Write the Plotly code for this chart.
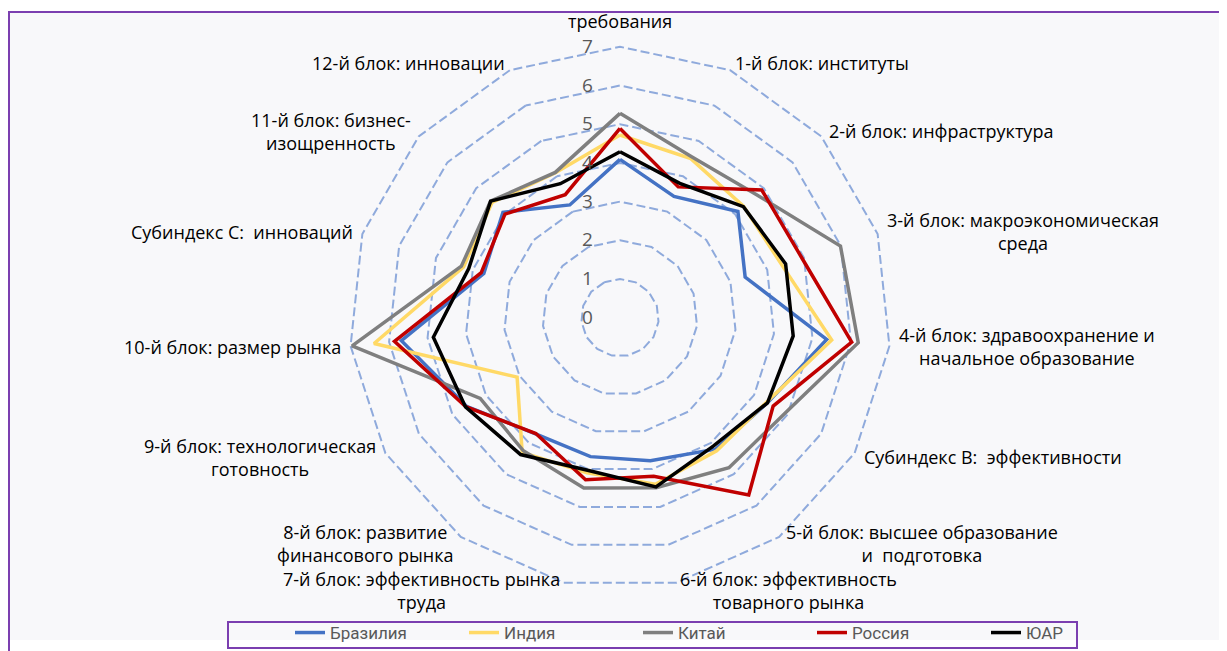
import math
import plotly.graph_objects as go

# ---------------- data ----------------
categories = [
    "Субиндекс А: базовые требования",
    "1-й блок: институты",
    "2-й блок: инфраструктура",
    "3-й блок: макроэкономическая среда",
    "4-й блок: здравоохранение и начальное образование",
    "Субиндекс В:  эффективности",
    "5-й блок: высшее образование и подготовка",
    "6-й блок: эффективность товарного рынка",
    "7-й блок: эффективность рынка труда",
    "8-й блок: развитие финансового рынка",
    "9-й блок: технологическая готовность",
    "10-й блок: размер рынка",
    "Субиндекс С:  инноваций",
    "11-й блок: бизнес-изощренность",
    "12-й блок: инновации",
]
# visible label text (the top label is cropped in the reference: only its last line shows)
category_labels = [
    "требования",
    "1-й блок: институты",
    "2-й блок: инфраструктура",
    "3-й блок: макроэкономическая<br>среда",
    "4-й блок: здравоохранение и<br>начальное образование",
    "Субиндекс В:  эффективности",
    "5-й блок: высшее образование<br>и  подготовка",
    "6-й блок: эффективность<br>товарного рынка",
    "7-й блок: эффективность рынка<br>труда",
    "8-й блок: развитие<br>финансового рынка",
    "9-й блок: технологическая<br>готовность",
    "10-й блок: размер рынка",
    "Субиндекс С:  инноваций",
    "11-й блок: бизнес-<br>изощренность",
    "12-й блок: инновации",
]

brazil = [4.09, 3.43, 4.10, 3.40, 5.37, 4.40, 4.20, 3.78, 3.67, 3.71, 4.58, 5.68, 3.70, 4.07, 3.19]
india  = [4.72, 4.50, 4.30, 4.40, 5.50, 4.37, 4.25, 4.40, 4.10, 4.30, 3.07, 6.39, 4.25, 4.45, 4.10]
china  = [5.28, 4.55, 4.75, 5.99, 6.19, 4.93, 4.79, 4.49, 4.50, 4.25, 4.17, 6.96, 4.31, 4.50, 4.11]
russia = [4.89, 3.70, 4.93, 4.95, 6.02, 4.57, 5.66, 4.19, 4.28, 3.70, 4.60, 5.86, 3.77, 4.00, 3.48]
rsa    = [4.29, 3.80, 4.29, 4.50, 4.50, 4.40, 4.10, 4.47, 4.03, 4.37, 4.61, 4.85, 4.11, 4.50, 3.79]

series_names = ["Бразилия", "Индия", "Китай", "Россия", "ЮАР"]
series_values = [brazil, india, china, russia, rsa]
series_colors = ["#4472C4", "#FFD966", "#7F7F7F", "#C00000", "#000000"]

radial_ticks = [0, 1, 2, 3, 4, 5, 6, 7]
radial_max = 7.05   # a little headroom so the ring at 7 is drawn

# ---------------- layout geometry (page pixels; the page body has an 8px margin) ----------------
OFF = 8
W, H = 1227 - OFF, 651 - OFF
CX, CY = 620, 317.7
UNIT = 38.7                 # px per scale unit
R7 = UNIT * 7               # outer ring radius
RD = UNIT * radial_max      # polar domain radius
FONT = "Open Sans, Noto Sans, DejaVu Sans, sans-serif"
PURPLE = "#7B3FB0"


def px(x):
    return (x - OFF) / W


def py(y):
    return 1 - (y - OFF) / H


fig = go.Figure()
for name, vals, col in zip(series_names, series_values, series_colors):
    fig.add_trace(go.Scatterpolar(
        r=list(vals) + [vals[0]],
        theta=categories + [categories[0]],
        mode="lines",
        name=name,
        line=dict(color=col, width=3.5),
    ))

# category labels placed around the outer ring
annotations = []
n = len(categories)
for i, lab in enumerate(category_labels):
    ang = math.radians(90 - 360.0 * i / n)
    c, s = math.cos(ang), math.sin(ang)
    ax = CX + (R7 + 8) * c
    ay = CY - (R7 + 8) * s
    if c > 0.15:
        xa = "left"
    elif c < -0.15:
        xa = "right"
    else:
        xa = "center"
    ya = "middle"
    if i == 0:
        ya = "bottom"
        ay = CY - R7 - 12
    annotations.append(dict(
        x=px(ax), y=py(ay), xref="paper", yref="paper",
        text=lab, showarrow=False, xanchor=xa, yanchor=ya, align="center",
        font=dict(family=FONT, size=18, color="#000000"),
    ))

shapes = [
    dict(type="rect", xref="paper", yref="paper", x0=0, x1=1, y0=py(640), y1=py(12),
         fillcolor="#F8F8FA", line=dict(width=0), layer="below"),
    dict(type="line", xref="paper", yref="paper", x0=px(8), x1=1, y0=py(12), y1=py(12),
         line=dict(color=PURPLE, width=2), layer="above"),
    dict(type="line", xref="paper", yref="paper", x0=px(9), x1=px(9), y0=0, y1=py(12),
         line=dict(color=PURPLE, width=2), layer="above"),
    # legend frame
    dict(type="rect", xref="paper", yref="paper", x0=px(228), x1=px(1077), y0=py(648), y1=py(622),
         line=dict(color=PURPLE, width=2), fillcolor="rgba(0,0,0,0)", layer="above"),
]

fig.update_layout(
    width=W, height=H,
    margin=dict(l=0, r=0, t=0, b=0),
    paper_bgcolor="white",
    plot_bgcolor="rgba(0,0,0,0)",
    font=dict(family=FONT),
    polar=dict(
        domain=dict(x=[px(CX - RD), px(CX + RD)], y=[py(CY + RD), py(CY - RD)]),
        bgcolor="rgba(0,0,0,0)",
        gridshape="linear",
        angularaxis=dict(
            direction="clockwise", rotation=90,
            showgrid=False, showline=False, showticklabels=False, ticks="",
        ),
        radialaxis=dict(
            range=[0, radial_max], tickvals=radial_ticks, angle=90, tickangle=90,
            showline=False, ticks="outside", ticklen=20, tickcolor="rgba(0,0,0,0)",
            tickfont=dict(family=FONT, size=19, color="#595959"),
            gridcolor="#8FAADC", griddash="9px,4px", gridwidth=2.3,
            side="counterclockwise",
        ),
    ),
    legend=dict(
        orientation="h", x=px(290), xanchor="left", y=0, yanchor="bottom",
        borderwidth=0, bgcolor="rgba(0,0,0,0)",
        entrywidth=129, entrywidthmode="pixels",
        font=dict(family="Roboto, Liberation Sans, sans-serif", size=17, color="#595959"),
    ),
    annotations=annotations,
    shapes=shapes,
    showlegend=True,
)

fig.write_html("out.html")
